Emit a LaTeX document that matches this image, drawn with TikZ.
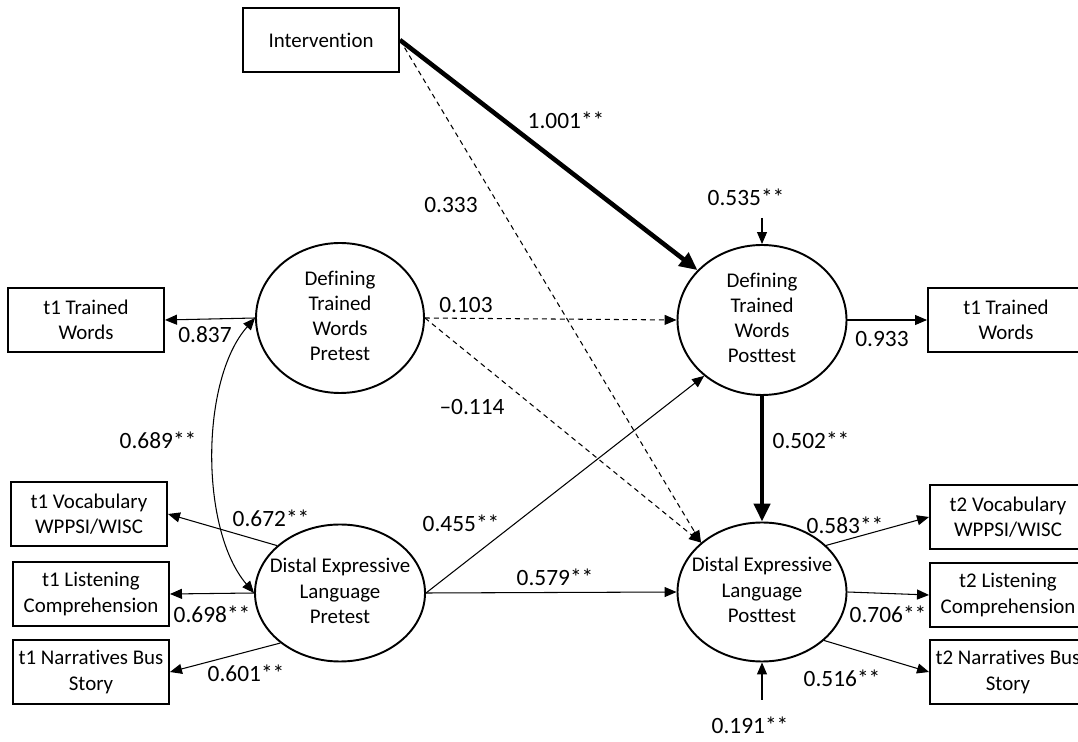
\documentclass[tikz,border=0pt]{standalone}
\usepackage{fontspec}
\setmainfont{Carlito}[Ligatures=TeX,RawFeature={-liga;-clig;-dlig;-calt;-rlig}]
\usetikzlibrary{arrows.meta,shapes.geometric}
\newcommand{\lvtext}[1]{\makebox[0pt]{\begin{tabular}{@{}c@{}}#1\end{tabular}}}
\tikzset{
	>={Triangle[length=2.4mm,width=2mm]},
	obs/.style={draw,line width=1.1pt,minimum width=31.2mm,minimum height=12.8mm,inner sep=1pt,align=center,font=\fontsize{11.9}{14.3}\selectfont},
	lat/.style={draw,ellipse,line width=1.1pt,inner sep=0pt,font=\fontsize{11.9}{14.3}\selectfont},
	coef/.style={inner sep=0pt,font=\fontsize{13.3}{16}\selectfont},
	reg/.style={line width=0.6pt,->},
	nsreg/.style={reg,dash pattern=on 1mm off 0.8mm},
	bigreg/.style={line width=2.6pt,-{Triangle[length=3.6mm,width=3.2mm]}}
}

\begin{document}
\begin{tikzpicture}[x=0.2mm,y=-0.2mm]
\useasboundingbox (0,0) rectangle (1078,742);
\clip (0,0) rectangle (1078,742);
% observed
\node[obs] (interv) at (321,40) {Intervention};
\node[obs] (tw1) at (86,320) {t1 Trained\\Words};
\node[obs] (tw2) at (1006,320) {t1 Trained\\Words};
\foreach \n/\x/\y/\t in {v1/89/514/{t1 Vocabulary\\WPPSI/WISC},l1/91/594/{t1 Listening\\Comprehension},n1/91/672/{t1 Narratives Bus\\Story},
	v2/1008/517/{t2 Vocabulary\\WPPSI/WISC},l2/1008/595/{t2 Listening\\Comprehension},n2/1008/672/{t2 Narratives Bus\\Story}}
	\node[obs] (\n) at (\x,\y) {\t};
% latent
\node[lat,minimum width=33.6mm,minimum height=30mm] (tpre) at (340,318) {\lvtext{Defining\\Trained\\Words\\Pretest}};
\node[lat,minimum width=33.8mm,minimum height=30mm] (tpost) at (762,320) {\lvtext{Defining\\Trained\\Words\\Posttest}};
\node[lat,minimum width=34mm,minimum height=27.4mm] (dpre) at (340,593) {\lvtext{Distal Expressive\\Language\\Pretest}};
\node[lat,minimum width=33.8mm,minimum height=27.8mm] (dpost) at (762,592) {\lvtext{Distal Expressive\\Language\\Posttest}};
\coordinate (e1) at (762,218);
\coordinate (e2) at (762,700);
% structural paths
\draw[bigreg] (interv.east) -- (tpost);
\draw[nsreg] (interv.east) -- (dpost.141);
\draw[nsreg] (tpre.east) -- (tpost.west);
\draw[nsreg] (tpre.east) -- (dpost.141);
\draw[reg] (dpre.east) -- (tpost.224);
\draw[reg] (dpre.east) -- (dpost.west);
\draw[bigreg] (tpost) -- (dpost);
\draw[reg] (e1) -- (tpost.north);
\draw[reg] (e2) -- (dpost.south);
\draw[line width=0.6pt,<->] (tpre.west) .. controls (200,380) and (200,530) .. (dpre.west);
% loadings
\draw[reg] (tpre.west) -- (tw1.east);
\draw[reg] (dpre.143) -- (v1.east);
\draw[reg] (dpre.west) -- (l1.east);
\draw[reg] (dpre.220) -- (n1.east);
\draw[reg] (tpost.east) -- (tw2.west);
\draw[reg] (dpost.36) -- (v2.west);
\draw[reg] (dpost.east) -- (l2.west);
\draw[reg] (dpost.-38) -- (n2.west);
% coefficients
\foreach \v/\x/\y [count=\i] in {1.001**/566/120,0.333/451/205,0.535**/746/197,0.103/466/305,--0.114/472/407,
	0.837/205/335,0.933/882/339,0.689**/158/440,0.502**/811/440,0.672**/271/518,0.455**/461/523,0.583**/845/525,
	0.579**/555/577,0.698**/212/614,0.706**/888/614,0.601**/246/673,0.516**/842/678,0.191**/750/725}
	\node[coef] (c\i) at (\x,\y) {\v};
\end{tikzpicture}
\end{document}
